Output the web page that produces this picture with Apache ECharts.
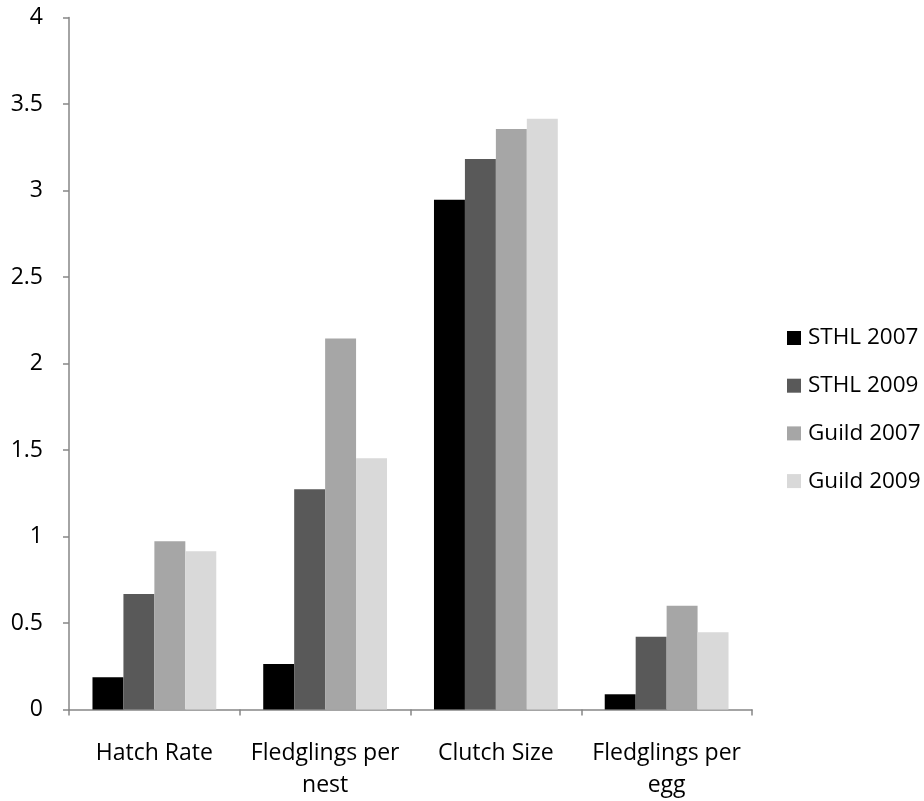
<!DOCTYPE html>
<html>
<head>
<meta charset="utf-8">
<script src="https://cdn.jsdelivr.net/npm/echarts@6/dist/echarts.min.js"></script>
<style>
  html, body { margin: 0; padding: 0; background: #fff; }
  #chart { width: 924px; height: 801px; }
</style>
</head>
<body>
<div id="chart"></div>
<script>
// Nest success measures by site and year
const categories = ['Hatch Rate', 'Fledglings per\nnest', 'Clutch Size', 'Fledglings per\negg'];
const sthl2007 = [0.186, 0.263, 2.947, 0.088];
const sthl2009 = [0.667, 1.273, 3.182, 0.42];
const guild2007 = [0.973, 2.145, 3.356, 0.6];
const guild2009 = [0.915, 1.452, 3.415, 0.446];
const seriesNames = ['STHL 2007', 'STHL 2009', 'Guild 2007', 'Guild 2009'];
const yTicks = { min: 0, max: 4, interval: 0.5 };

const FONT = '"Open Sans", Lato, sans-serif';
const axisGray = '#868686';

const chart = echarts.init(document.getElementById('chart'));
const mk = (name, data, color) => ({
  name, type: 'bar', data,
  barGap: '0%', barCategoryGap: '27.5%',
  itemStyle: { color }
});
chart.setOption({
  animation: false,
  grid: { left: 69, right: 172, top: 17.5, bottom: 90.5, containLabel: false },
  legend: {
    orient: 'vertical', left: 782, top: 321,
    itemWidth: 14, itemHeight: 14, itemGap: 23.7,
    icon: 'rect',
    textStyle: { fontFamily: FONT, fontSize: 22.5, lineHeight: 24, color: '#000', padding: [0, 0, 0, 2] },
    data: seriesNames
  },
  xAxis: {
    type: 'category', data: categories,
    axisLine: { lineStyle: { color: axisGray, width: 1.5 } },
    axisTick: { show: true, length: 6, lineStyle: { color: axisGray, width: 1.5 } },
    axisLabel: { interval: 0, hideOverlap: false, fontFamily: FONT, fontSize: 23, color: '#000', margin: 27.5, lineHeight: 32 }
  },
  yAxis: {
    type: 'value', min: yTicks.min, max: yTicks.max, interval: yTicks.interval,
    splitLine: { show: false },
    axisLine: { show: true, lineStyle: { color: axisGray, width: 1.5 } },
    axisTick: { show: true, length: 6, lineStyle: { color: axisGray, width: 1.5 } },
    axisLabel: { fontFamily: FONT, fontSize: 23, color: '#000', margin: 26 }
  },
  series: [
    mk(seriesNames[0], sthl2007, '#000000'),
    mk(seriesNames[1], sthl2009, '#595959'),
    mk(seriesNames[2], guild2007, '#a6a6a6'),
    mk(seriesNames[3], guild2009, '#d9d9d9')
  ]
});
</script>
</body>
</html>
